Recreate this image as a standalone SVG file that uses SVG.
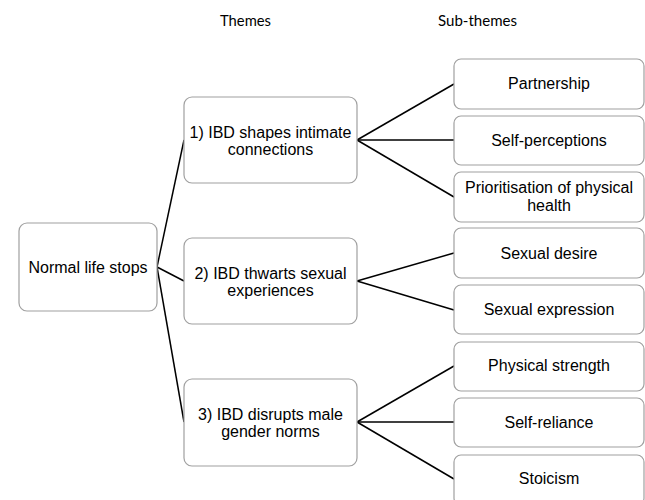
<svg xmlns="http://www.w3.org/2000/svg" width="645" height="500" viewBox="0 0 645 500">
<style>
.box{fill:#fff;stroke:#a0a0a0;stroke-width:1.2}
.t{font-family:"Liberation Sans",Arial,sans-serif;font-size:16px;fill:#000;text-anchor:middle}
.h{font-family:Lato,"Open Sans",sans-serif;font-size:15.5px;fill:#000}
.c line{stroke:#000;stroke-width:1.5}
</style>
<rect width="645" height="500" fill="#fff"/>
<text class="h" x="220" y="26" textLength="51" lengthAdjust="spacingAndGlyphs">Themes</text>
<text class="h" x="438" y="26" textLength="79" lengthAdjust="spacingAndGlyphs">Sub-themes</text>
<g class="c" id="connectors">
<line x1="157" y1="267" x2="184" y2="140"/>
<line x1="157" y1="267" x2="184" y2="281"/>
<line x1="157" y1="267" x2="184" y2="422"/>
<line x1="357" y1="140" x2="454" y2="84"/>
<line x1="357" y1="140" x2="454" y2="140"/>
<line x1="357" y1="140" x2="454" y2="197"/>
<line x1="357" y1="281" x2="454" y2="253"/>
<line x1="357" y1="281" x2="454" y2="310"/>
<line x1="357" y1="422" x2="454" y2="366"/>
<line x1="357" y1="422" x2="454" y2="422"/>
<line x1="357" y1="422" x2="454" y2="479"/>
</g>
<g id="root"><rect class="box" x="19" y="223" width="138" height="88" rx="8"/><text class="t" x="88" y="273">Normal life stops</text></g>
<g id="theme1"><rect class="box" x="184" y="97" width="173" height="86" rx="8"/><text class="t" x="270.5" y="138">1) IBD shapes intimate</text><text class="t" x="270.5" y="155">connections</text></g>
<g id="theme2"><rect class="box" x="184" y="238" width="173" height="86" rx="8"/><text class="t" x="270.5" y="279">2) IBD thwarts sexual</text><text class="t" x="270.5" y="296">experiences</text></g>
<g id="theme3"><rect class="box" x="184" y="379" width="173" height="87" rx="8"/><text class="t" x="270.5" y="420">3) IBD disrupts male</text><text class="t" x="270.5" y="437">gender norms</text></g>
<g id="sub1"><rect class="box" x="454" y="59" width="190" height="50" rx="7"/><text class="t" x="549" y="89">Partnership</text></g>
<g id="sub2"><rect class="box" x="454" y="116" width="190" height="49" rx="7"/><text class="t" x="549" y="146">Self-perceptions</text></g>
<g id="sub3"><rect class="box" x="454" y="172" width="190" height="50" rx="7"/><text class="t" x="549" y="193">Prioritisation of physical</text><text class="t" x="549" y="211">health</text></g>
<g id="sub4"><rect class="box" x="454" y="228" width="190" height="50" rx="7"/><text class="t" x="549" y="259">Sexual desire</text></g>
<g id="sub5"><rect class="box" x="454" y="285" width="190" height="49" rx="7"/><text class="t" x="549" y="315">Sexual expression</text></g>
<g id="sub6"><rect class="box" x="454" y="342" width="190" height="49" rx="7"/><text class="t" x="549" y="371">Physical strength</text></g>
<g id="sub7"><rect class="box" x="454" y="398" width="190" height="49" rx="7"/><text class="t" x="549" y="428">Self-reliance</text></g>
<g id="sub8"><rect class="box" x="454" y="455" width="190" height="50" rx="7"/><text class="t" x="549" y="484">Stoicism</text></g>
</svg>
